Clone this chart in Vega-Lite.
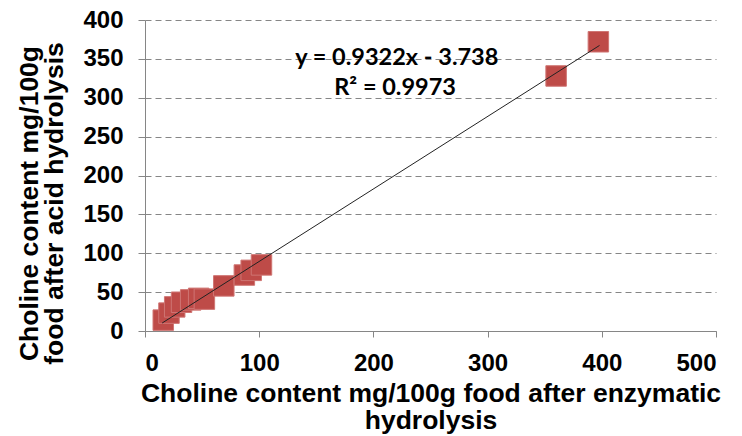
{
  "$schema": "https://vega.github.io/schema/vega-lite/v6.json",
  "autosize": "none",
  "width": 571,
  "height": 311,
  "padding": {"left": 145, "top": 20, "right": 26, "bottom": 105},
  "background": "white",
  "config": {
    "view": {"stroke": null},
    "axis": {
      "labelFont": "Liberation Sans",
      "labelFontWeight": "bold",
      "labelFontSize": 24,
      "labelColor": "#000000",
      "titleFont": "Liberation Sans",
      "titleFontWeight": "bold",
      "titleFontSize": 26.5,
      "titleColor": "#000000",
      "domainColor": "#868686",
      "tickColor": "#868686",
      "gridColor": "#868686",
      "gridDash": [6, 4]
    }
  },
  "encoding": {
    "x": {
      "field": "enzymatic", "type": "quantitative",
      "scale": {"domain": [0, 500], "nice": false},
      "axis": {
        "values": [0, 100, 200, 300, 400, 500],
        "grid": false,
        "tickSize": 6,
        "labelPadding": 14,
        "labelOverlap": false,
        "title": ["Choline content mg/100g food after enzymatic", "hydrolysis"],
        "titleLineHeight": 27,
        "titlePadding": 5
      }
    },
    "y": {
      "field": "acid", "type": "quantitative",
      "scale": {"domain": [0, 400], "nice": false},
      "axis": {
        "values": [0, 50, 100, 150, 200, 250, 300, 350, 400],
        "grid": true,
        "tickSize": 7,
        "labelPadding": 15,
        "labelOverlap": false,
        "title": ["Choline content mg/100g", "food after acid hydrolysis"],
        "titleLineHeight": 25,
        "titlePadding": 14,
        "titleY": 183
      }
    }
  },
  "layer": [
    {
      "data": {"values": [
        {"enzymatic": 16, "acid": 14},
        {"enzymatic": 21, "acid": 23},
        {"enzymatic": 26, "acid": 31},
        {"enzymatic": 32, "acid": 37},
        {"enzymatic": 40, "acid": 40},
        {"enzymatic": 47, "acid": 42},
        {"enzymatic": 52, "acid": 41},
        {"enzymatic": 69, "acid": 58},
        {"enzymatic": 87, "acid": 72},
        {"enzymatic": 93, "acid": 78},
        {"enzymatic": 102, "acid": 85},
        {"enzymatic": 360, "acid": 328},
        {"enzymatic": 397, "acid": 372}
      ]},
      "mark": {"type": "point", "shape": "square", "filled": true, "size": 420, "fill": "#BE4B48", "stroke": "#CF7573", "strokeWidth": 1, "opacity": 1}
    },
    {
      "data": {"values": [
        {"enzymatic": 15, "acid": 10.245},
        {"enzymatic": 398, "acid": 367.28}
      ]},
      "mark": {"type": "line", "color": "#222222", "strokeWidth": 1}
    },
    {
      "data": {"values": [
        {"enzymatic": 220.5, "acid": 351, "label": "y = 0.9322x - 3.738"},
        {"enzymatic": 219, "acid": 312, "label": "R² = 0.9973"}
      ]},
      "mark": {"type": "text", "font": "Lato", "fontWeight": "bold", "fontSize": 23.5, "color": "#000000", "align": "center", "baseline": "middle"},
      "encoding": {
        "text": {"field": "label", "type": "nominal"}
      }
    }
  ]
}
